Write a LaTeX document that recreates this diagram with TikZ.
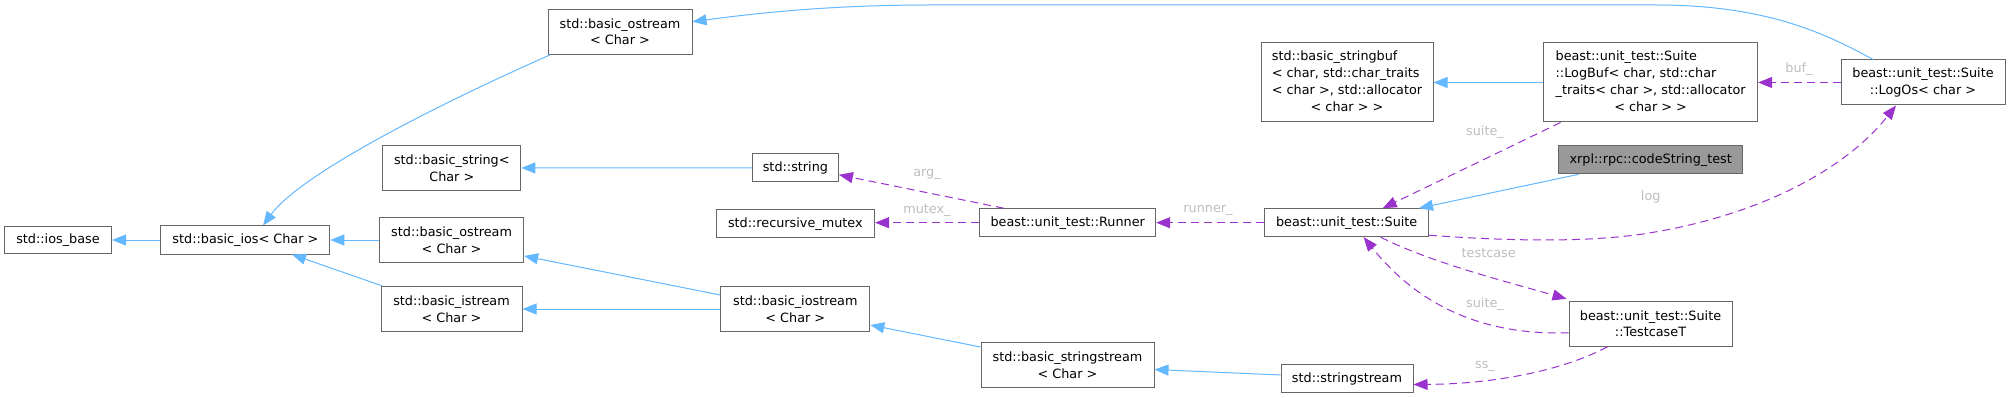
\documentclass[tikz,border=0pt]{standalone}
\usepackage{fontspec}
\setmainfont{DejaVu Sans}
\usetikzlibrary{arrows.meta}
\definecolor{inhblue}{HTML}{63B8FF}
\definecolor{usepurple}{HTML}{9A32CD}
\definecolor{lblgray}{HTML}{BEBEBE}
\definecolor{boxgray}{HTML}{666666}
\definecolor{hlgray}{HTML}{999999}
\newcommand{\nfont}{\fontsize{12.8}{16.8}\selectfont}
\begin{document}
\begin{tikzpicture}[x=1pt,y=-1pt,
  box/.style={draw=boxgray,line width=1pt,fill=white,inner sep=0pt,font=\nfont,text=black,align=center},
  inh/.style={draw=inhblue,line width=1pt,-{Triangle[length=14pt,width=11pt]}},
  use/.style={draw=usepurple,line width=1pt,dash pattern=on 8pt off 5pt,-{Triangle[length=14pt,width=11pt]}},
  lbl/.style={text=lblgray,font=\nfont,inner sep=0pt}]
\useasboundingbox[fill=white] (0,0) rectangle (2010,398);

% nodes
\node[box,minimum width=107pt,minimum height=27pt] (iosbase) at (58,240) {std::ios\_base};
\node[box,minimum width=169pt,minimum height=28pt] (basicios) at (245.4,240) {std::basic\_ios< Char >};
\node[box,minimum width=144pt,minimum height=45pt] (ostreamTop) at (620,31.7) {std::basic\_ostream\\< Char >};
\node[box,minimum width=138pt,minimum height=45pt] (bstring) at (451.8,168) {std::basic\_string<\\Char >};
\node[box,minimum width=144pt,minimum height=45pt] (ostreamMid) at (451.6,240) {std::basic\_ostream\\< Char >};
\node[box,minimum width=141pt,minimum height=45pt] (istream) at (451.5,309) {std::basic\_istream\\< Char >};
\node[box,minimum width=86pt,minimum height=28pt] (string) at (795.4,167.8) {std::string};
\node[box,minimum width=158.6pt,minimum height=28pt] (rmutex) at (795.3,223.8) {std::recursive\_mutex};
\node[box,minimum width=176pt,minimum height=28pt] (runner) at (1067.7,222.7) {beast::unit\_test::Runner};
\node[box,minimum width=149pt,minimum height=45pt] (iostream) at (795.3,309) {std::basic\_iostream\\< Char >};
\node[box,minimum width=173pt,minimum height=45pt] (bsstream) at (1067.5,365) {std::basic\_stringstream\\< Char >};
\node[box,minimum width=132pt,minimum height=28pt] (sstream) at (1347,378.5) {std::stringstream};
\node[box,minimum width=172pt,minimum height=79pt] (stringbuf) at (1347,82.5) {\begin{tabular}{@{}l@{}}std::basic\_stringbuf\\< char, std::char\_traits\\< char >, std::allocator\\\multicolumn{1}{@{}c@{}}{< char > >}\end{tabular}};
\node[box,minimum width=163.5pt,minimum height=28pt] (suite) at (1346.7,222.7) {beast::unit\_test::Suite};
\node[box,minimum width=214pt,minimum height=79pt] (logbuf) at (1650.6,82.5) {\begin{tabular}{@{}l@{}}beast::unit\_test::Suite\\::LogBuf< char, std::char\\\_traits< char >, std::allocator\\\multicolumn{1}{@{}c@{}}{< char > >}\end{tabular}};
\node[box,minimum width=164pt,minimum height=45pt] (logos) at (1923,82.5) {beast::unit\_test::Suite\\::LogOs< char >};
\node[box,fill=hlgray,minimum width=184pt,minimum height=28pt] (codestr) at (1650.7,159.8) {xrpl::rpc::codeString\_test};
\node[box,minimum width=163pt,minimum height=45pt] (testcase) at (1650.5,323.8) {beast::unit\_test::Suite\\::TestcaseT};

% inheritance
\draw[inh] (basicios) -- (iosbase);
\draw[inh] ([xshift=3pt]ostreamTop.south west) .. controls (430,108) and (300,175) .. ([xshift=17.6pt]basicios.north);
\draw[inh] (ostreamMid) -- (basicios);
\draw[inh] ([xshift=2pt]istream.north west) -- ([xshift=46.6pt]basicios.south);
\draw[inh] ([xshift=-50pt]logos.north) .. controls (1820,30) and (1760,5) .. (1656,5) -- (930,5) .. controls (850,5) and (780,10) .. ([yshift=10pt]ostreamTop.east);
\draw[inh] (string) -- (bstring);
\draw[inh] ([yshift=14pt]iostream.west) -- ([yshift=-16pt]ostreamMid.east);
\draw[inh] (iostream) -- (istream);
\draw[inh] ([yshift=18pt]bsstream.west) -- ([yshift=-16pt]iostream.east);
\draw[inh] ([yshift=3.5pt]sstream.west) -- ([yshift=-4.5pt]bsstream.east);
\draw[inh] (logbuf) -- (stringbuf);
\draw[inh] ([xshift=-72pt]codestr.south) -- ([xshift=-10pt]suite.north east);

% usage
\draw[use] ([xshift=-64pt]runner.north) -- ([yshift=-7pt]string.east);
\node[lbl] (larg) at (927,174) {arg\_};
\draw[use] (runner.west) -- (runner.west -| rmutex.east);
\node[lbl] (lmutex) at (927,210.7) {mutex\_};
\draw[use] (suite) -- (runner);
\node[lbl] (lrunner) at (1208,210) {runner\_};
\draw[use] ([xshift=-90pt]logbuf.south) -- ([xshift=36pt]suite.north);
\node[lbl] (lsuiteA) at (1485,131.7) {suite\_};
\draw[use] (logos) -- (logbuf);
\node[lbl] (lbuf) at (1799,69.3) {buf\_};
\draw[use] ([yshift=2pt]suite.south east) .. controls (1520,242) and (1600,242) .. (1655,232) .. controls (1760,214) and (1845,170) .. ([xshift=-27pt]logos.south);
\node[lbl] (llog) at (1650.7,197.3) {log};
\draw[use] ([xshift=34pt]suite.south) .. controls (1430,262) and (1500,280) .. ([xshift=-2pt,yshift=2pt]testcase.north west);
\node[lbl] (ltestcase) at (1488.7,253.3) {testcase};
\draw[use] ([yshift=-9pt]testcase.west) .. controls (1470,336) and (1410,295) .. ([xshift=17pt]suite.south);
\node[lbl] (lsuiteB) at (1485,304.3) {suite\_};
\draw[use] ([xshift=-43pt]testcase.south) .. controls (1560,372) and (1490,384) .. ([yshift=-6pt]sstream.east);
\node[lbl] (lss) at (1485,366) {ss\_};
\end{tikzpicture}
\end{document}
